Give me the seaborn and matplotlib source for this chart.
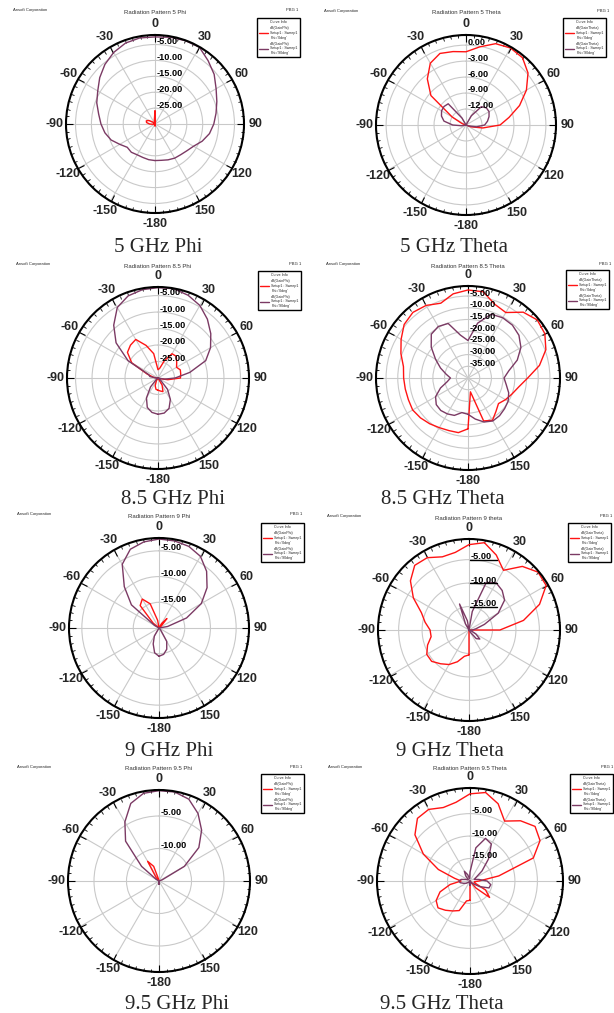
import numpy as np
import pandas as pd
import matplotlib
matplotlib.use('Agg')
import matplotlib.pyplot as plt
import seaborn as sns
from matplotlib.lines import Line2D

W, H = 614, 1013

# sample angles (deg, clockwise from top), -180 .. 170
ANGLES = list(range(-180, 180, 10))
THETA_LABELS = ['0', '30', '60', '90', '120', '150', '-180', '-150', '-120', '-90', '-60', '-30']

# 5 GHz
phi0_5 = [-29.4, -29.6, -30, -30, -30, -30, -30, -30, -29.5, -28.3, -27.3, -27.1, -27.8, -29.0, -29.8, -30,
          -29.8, -28.8, -25.8, -29.2, -30, -30, -30, -30, -30, -30, -30, -30, -30, -30, -30, -30, -30, -30,
          -29.8, -29.5]
phi90_5 = [-18.5, -18.6, -18.8, -18.8, -18.4, -18.6, -17.2, -15.3, -14.0, -13.0, -12.0, -10.5, -9.2, -7.3,
           -5.5, -4.0, -2.9, -2.5, -2.6, -2.3, -2.1, -2.1, -4.0, -5.7, -7.8, -9.3, -10.5, -11.5, -12.6,
           -14.2, -16.0, -16.9, -17.4, -17.6, -18.0, -18.4]
theta0_5 = [-15, -15, -15, -15, -15, -15, -15, -15, -15, -15, -14.8, -14.2, -12.0, -6.4, -3.7, -1.6, -0.7,
            -1.0, -1.25, -0.1, 1.25, 1.7, 1.5, 0.2, -1.9, -4.3, -6.8, -8.6, -11.8, -14.0, -15, -15, -15,
            -15, -15, -15]
theta90_5 = [-15, -15, -15, -15, -15, -15, -15, -15, -14.2, -12.5, -10.8, -10.1, -9.7, -9.6, -9.8, -13.5,
             -15, -15, -15, -15, -15, -13.0, -10.5, -10.0, -10.0, -10.4, -10.9, -11.5, -13.0, -14.5, -15,
             -15, -15, -15, -15, -15]

# 8.5 GHz
phi0_85 = [-26.3, -26.5, -27.5, -29.0, -30, -30, -30, -30, -30, -29.5, -28.5, -26.5, -20.8, -17.9, -17.0,
           -16.5, -19.5, -22.5, -27.5, -27.0, -24.5, -21.5, -21.4, -22.6, -23.5, -22.8, -23.0, -23.2, -27.0,
           -29.5, -30, -30, -30, -27.5, -25.6, -26.0]
phi90_85 = [-19.0, -19.4, -20.5, -23.0, -26.5, -29.5, -30, -30, -30, -29.5, -27.5, -27.0, -19.5, -13.4,
            -9.1, -5.3, -3.5, -2.8, -2.6, -2.5, -3.3, -4.6, -6.7, -9.1, -11.6, -14.6, -20.2, -24.8, -28.0,
            -30, -30, -29.0, -25.5, -22.5, -20.2, -19.2]
theta0_85 = [-18.3, -16.3, -16.1, -15.5, -14.5, -13.5, -12.7, -12.9, -12.8, -12.5, -12.0, -9.5, -7.0, -4.4,
             -3.4, -4.2, -6.0, -3.5, -2.4, -2.6, -6.5, -7.7, -3.3, -1.4, -2.1, -4.6, -9.0, -14.5, -18.0,
             -20.0, -21.5, -23.0, -21.4, -19.1, -20.5, -34.0]
theta90_85 = [-24.5, -25.0, -23.0, -22.3, -21.9, -22.3, -24.0, -27.5, -31.0, -32.5, -30.5, -27.5, -24.0,
              -19.5, -15.6, -14.6, -15.2, -21.4, -24.0, -16.2, -11.0, -10.3, -10.5, -11.6, -13.9, -17.6,
              -22.3, -24.6, -23.4, -21.5, -20.2, -19.6, -19.0, -18.8, -20.0, -22.2]

# 9 GHz
phi0_9 = [-20, -20, -20, -20, -20, -20, -20, -20, -20, -20, -20, -20, -20, -18.5, -14.3, -13.5, -15.0,
          -18.5, -20, -20, -20, -19.0, -17.6, -19.5, -20, -20, -20, -20, -20, -20, -20, -20, -20, -20,
          -20, -20]
phi90_9 = [-14.5, -15.1, -16.7, -18.2, -20, -20, -20, -20, -20, -20, -20, -20, -19.0, -13.0, -9.5, -5.7,
           -3.7, -3.0, -2.7, -2.8, -3.1, -3.9, -5.6, -7.8, -10.5, -14.3, -18.3, -20, -20, -20, -20, -20,
           -19.5, -17.0, -15.6, -14.8]
theta0_9 = [-14.7, -14.3, -12.8, -11.5, -10.6, -9.6, -9.6, -10.6, -11.8, -11.7, -10.5, -9.2, -6.3, -3.7,
            -2.0, -2.2, -3.4, -3.2, -1.8, -1.1, -3.0, -5.3, -2.3, -0.8, -1.0, -4.0, -8.2, -13.4, -20, -20,
            -20, -20, -20, -20, -20, -20]
theta90_9 = [-20, -20, -20, -20, -20, -20, -20, -20, -20, -20, -20, -20, -20, -20, -20, -18.5, -14.1, -18.0,
             -20, -16.0, -9.2, -8.4, -9.0, -10.1, -12.8, -16.5, -18.5, -19.3, -19.7, -19.5, -18.3, -17.0,
             -17.6, -19.5, -20, -20]

# 9.5 GHz
phi0_95 = [-15, -15, -15, -15, -15, -15, -15, -15, -15, -15, -15, -15, -15, -15, -14.3, -11.5, -12.6,
           -14.8, -15, -15, -15, -15, -15, -15, -15, -15, -15, -15, -15, -15, -15, -15, -15, -15, -15, -15]
phi90_95 = [-14.5, -15, -15, -15, -15, -15, -15, -15, -15, -15, -15, -15, -14.5, -11.5, -7.0, -4.5, -2.3,
            -1.3, -1.1, -1.1, -1.6, -3.0, -4.8, -7.0, -10.5, -14.5, -15, -15, -15, -15, -15, -15, -15, -15,
            -15, -15]
theta0_95 = [-15.7, -15.5, -13.0, -12.3, -11.5, -10.7, -11.3, -12.9, -15.5, -18.0, -16.5, -12.5, -8.0, -4.0,
             -1.8, -1.6, -2.6, -2.2, -0.6, 0.0, -1.7, -4.6, -2.5, -1.1, -2.0, -5.0, -13.5, -18.0, -19.0,
             -19.0, -16.0, -14.3, -18.0, -20, -20, -20]
theta90_95 = [-19.0, -19.5, -20, -20, -20, -19.5, -19.0, -18.5, -17.8, -17.5, -18.0, -19.0, -19.5, -19.5,
              -18.5, -17.5, -18.5, -19.5, -18.0, -12.5, -9.9, -10.5, -13.6, -16.5, -18.5, -19.0, -18.0,
              -16.2, -15.3, -15.5, -17.5, -19.0, -19.5, -20, -20, -19.5]

RED = '#ff1414'
PURPLE = '#7b3a64'
GRID = '#c9c9c9'

# layout in pixels: polar centre, radius, caption centre/baseline, legend box corner
panels = [
    dict(kind='Phi', title='Radiation Pattern 5 Phi', caption='5 GHz Phi', curves=(phi0_5, phi90_5),
         rmin=-30, rmax=-2.0, rticks=[-25, -20, -15, -10, -5], c=(155, 124), R=89, cap=(158, 252), leg=(257, 18)),
    dict(kind='Theta', title='Radiation Pattern 5 Theta', caption='5 GHz Theta', curves=(theta0_5, theta90_5),
         rmin=-15, rmax=1.9, rticks=[-12, -9, -6, -3, 0], c=(466, 125), R=90, cap=(454, 252), leg=(563, 18)),
    dict(kind='Phi', title='Radiation Pattern 8.5 Phi', caption='8.5 GHz Phi', curves=(phi0_85, phi90_85),
         rmin=-30, rmax=-2.4, rticks=[-25, -20, -15, -10, -5], c=(158, 378), R=91, cap=(173, 504), leg=(258, 271)),
    dict(kind='Theta', title='Radiation Pattern 8.5 Theta', caption='8.5 GHz Theta', curves=(theta0_85, theta90_85),
         rmin=-40, rmax=-0.7, rticks=[-35, -30, -25, -20, -15, -10, -5], c=(468, 378), R=92, cap=(443, 504), leg=(566, 270)),
    dict(kind='Phi', title='Radiation Pattern 9 Phi', caption='9 GHz Phi', curves=(phi0_9, phi90_9),
         rmin=-20, rmax=-2.5, rticks=[-15, -10, -5], c=(159, 628), R=90, cap=(169, 756), leg=(261, 523)),
    dict(kind='Theta', title='Radiation Pattern 9 theta', caption='9 GHz Theta', curves=(theta0_9, theta90_9),
         rmin=-20, rmax=-0.6, rticks=[-15, -10, -5], c=(469, 630), R=91, cap=(450, 756), leg=(568, 523),
         underline=True),
    dict(kind='Phi', title='Radiation Pattern 9.5 Phi', caption='9.5 GHz Phi', curves=(phi0_95, phi90_95),
         rmin=-15, rmax=-1.0, rticks=[-10, -5], c=(159, 881), R=91, cap=(177, 1009), leg=(261, 774)),
    dict(kind='Theta', title='Radiation Pattern 9.5 Theta', caption='9.5 GHz Theta', curves=(theta0_95, theta90_95),
         rmin=-20, rmax=0.7, rticks=[-15, -10, -5], c=(470, 881), R=93, cap=(442, 1009), leg=(570, 774)),
]

sns.set_style('white')
plt.rcParams['font.family'] = ['Liberation Sans', 'DejaVu Sans']

fig = plt.figure(figsize=(W / 100, H / 100), dpi=100)


def draw_panel(p):
    cx, cy = p['c']
    R = p['R']
    ax = fig.add_axes([(cx - R) / W, 1 - (cy + R) / H, 2 * R / W, 2 * R / H], projection='polar')

    theta = np.deg2rad(ANGLES + [180])
    rows = []
    for name, vals in zip(["0deg", "90deg"], p['curves']):
        closed = list(vals) + [vals[0]]
        rows.append(pd.DataFrame({'theta': theta, 'dB': closed, 'curve': name}))
    df = pd.concat(rows, ignore_index=True)

    sns.lineplot(data=df, x='theta', y='dB', hue='curve', palette={'0deg': RED, '90deg': PURPLE},
                 sort=False, estimator=None, legend=False, linewidth=1.0, ax=ax)
    ax.set_xlabel('')
    ax.set_ylabel('')

    ax.set_theta_zero_location('N')
    ax.set_theta_direction(-1)
    ax.set_rlim(p['rmin'], p['rmax'])
    ax.set_rticks(p['rticks'])
    ax.set_yticklabels([])

    ax.set_xticks(np.deg2rad(np.arange(0, 360, 30)))
    ax.set_xticklabels(THETA_LABELS, fontsize=9, fontweight='bold')
    ax.set_xticks(np.deg2rad(np.arange(0, 360, 5)), minor=True)
    # tick2 sits on the outer ring, tick1 on the centre
    ax.tick_params(axis='x', which='both', bottom=False, top=True, color='black')
    ax.tick_params(axis='x', which='major', direction='in', length=5, width=0.8, pad=1)
    ax.tick_params(axis='x', which='minor', direction='in', length=2.5, width=0.6)
    ax.grid(True, which='major', color=GRID, linewidth=0.8)
    ax.spines['polar'].set_linewidth(1.5)
    ax.spines['polar'].set_color('black')

    for t in p['rticks']:
        ax.annotate(f'{t:.2f}', xy=(0, t), xytext=(1, 2.2), textcoords='offset points',
                    ha='left', va='center', fontsize=6.6, fontweight='bold', color='black')
        if p.get('underline'):
            x0, y0 = fig.transFigure.inverted().transform(ax.transData.transform((0, t)))
            fig.add_artist(Line2D([x0 + 1 / W, x0 + 28 / W], [y0, y0], color='black', lw=1.0))

    # header texts
    dy = (cy - 124) / H
    fig.text((cx - 142) / W, 1 - 10 / H - dy, 'Ansoft Corporation', fontsize=3, ha='left', va='center')
    fig.text(cx / W, 1 - 12 / H - dy, p['title'], fontsize=4.3, ha='center', va='center', color='#333333')
    fig.text((cx + 131) / W, 1 - 10 / H - dy, 'PBG 1', fontsize=3, ha='left', va='center')

    # caption
    fig.text(p['cap'][0] / W, 1 - p['cap'][1] / H, p['caption'], fontsize=15, ha='center', va='baseline',
             family=['Liberation Serif', 'DejaVu Serif'])

    # curve info box
    gain = 'dB(GainPhi)' if p['kind'] == 'Phi' else 'dB(GainTheta)'
    handles = [Line2D([], [], color=RED, lw=1), Line2D([], [], color=PURPLE, lw=1)]
    labels = [f"{gain}\nSetup1 : Sweep1\nPhi='0deg'", f"{gain}\nSetup1 : Sweep1\nPhi='90deg'"]
    leg = fig.legend(handles, labels, title='Curve Info', loc='upper left',
                     bbox_to_anchor=(p['leg'][0] / W, 1 - p['leg'][1] / H),
                     fontsize=2.6, title_fontsize=2.6, frameon=True, fancybox=False,
                     edgecolor='black', framealpha=1, handlelength=2.5, borderpad=0.6,
                     labelspacing=0.6, handletextpad=0.6, borderaxespad=0)
    leg.get_frame().set_linewidth(1.0)
    return ax


for p in panels:
    draw_panel(p)

fig.savefig('out.png', dpi=100, facecolor='white')
